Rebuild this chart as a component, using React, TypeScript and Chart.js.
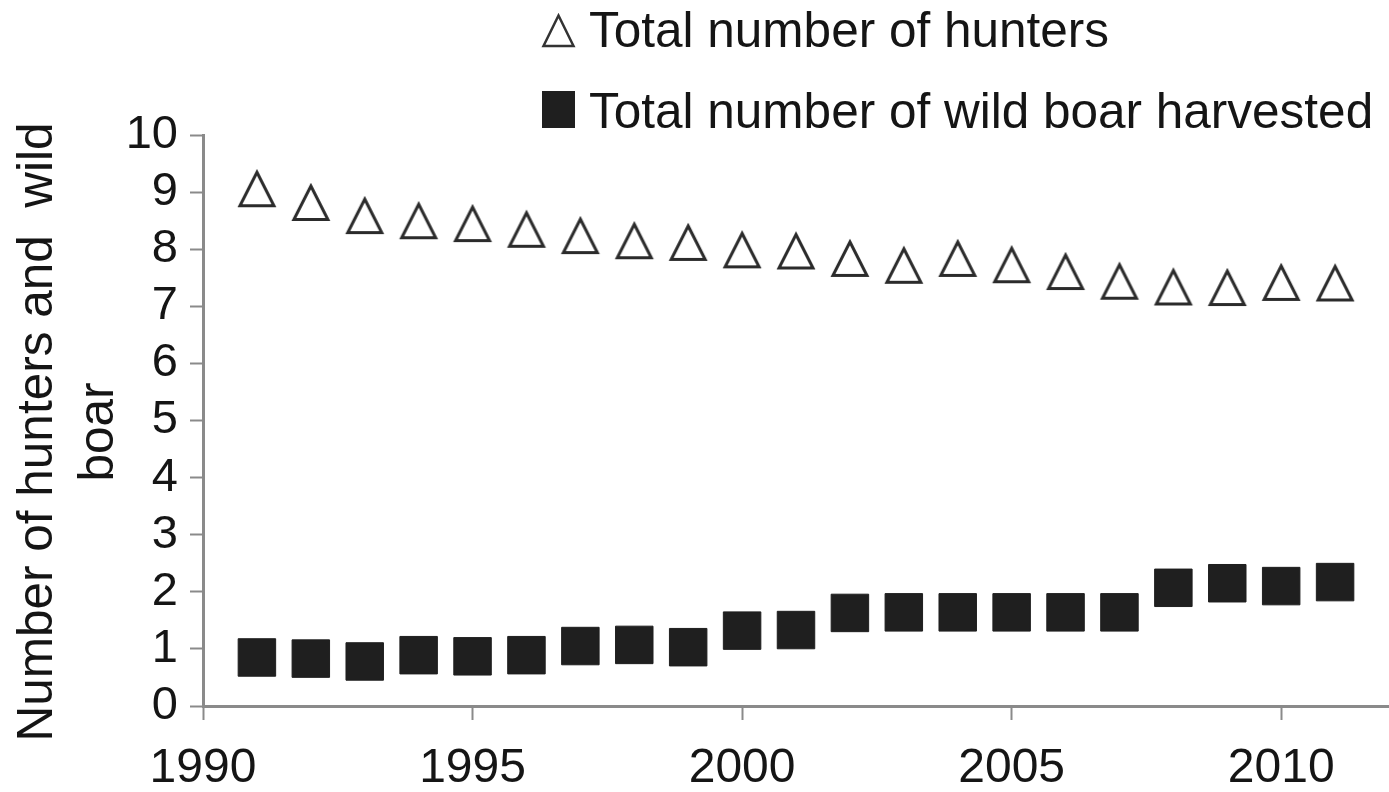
import { useEffect, useRef } from "react";
import { Chart, registerables } from "chart.js";

Chart.register(...registerables);

const years = [1991, 1992, 1993, 1994, 1995, 1996, 1997, 1998, 1999, 2000, 2001, 2002, 2003, 2004, 2005, 2006, 2007, 2008, 2009, 2010, 2011];
const hunters = [9.05, 8.81, 8.58, 8.49, 8.44, 8.34, 8.23, 8.14, 8.11, 7.98, 7.96, 7.83, 7.71, 7.83, 7.72, 7.6, 7.43, 7.33, 7.32, 7.41, 7.4];
const boar = [0.85, 0.83, 0.78, 0.89, 0.87, 0.89, 1.05, 1.07, 1.03, 1.32, 1.33, 1.63, 1.64, 1.64, 1.64, 1.64, 1.64, 2.07, 2.15, 2.1, 2.17];
const xTicks = [1990, 1995, 2000, 2005, 2010];
const yTicks = [0, 1, 2, 3, 4, 5, 6, 7, 8, 9, 10];
const seriesLabels = ["Total number of hunters", "Total number of wild boar harvested"];
const yTitle = ["Number of hunters and  wild", "boar"];

const FONT = "'Liberation Sans', Arial, Helvetica, sans-serif";
const TEXT = "#151515";
const AXIS = "#8a8a8a";

function makeTriangle(): HTMLCanvasElement {
  const c = document.createElement("canvas");
  c.width = 44;
  c.height = 44;
  const g = c.getContext("2d");
  if (g) {
    g.strokeStyle = "#2b2b2b";
    g.lineWidth = 3;
    g.lineJoin = "miter";
    g.fillStyle = "#ffffff";
    g.beginPath();
    g.moveTo(22, 5);
    g.lineTo(39, 38.5);
    g.lineTo(5, 38.5);
    g.closePath();
    g.fill();
    g.stroke();
  }
  return c;
}

const legendPlugin = {
  id: "customLegend",
  afterDraw(chart: any) {
    const ctx = chart.ctx as CanvasRenderingContext2D;
    ctx.save();
    ctx.font = `49.5px ${FONT}`;
    ctx.textAlign = "left";
    ctx.textBaseline = "alphabetic";
    // row 1: hollow triangle
    ctx.strokeStyle = "#333333";
    ctx.lineWidth = 2.5;
    ctx.beginPath();
    ctx.moveTo(558.5, 15.5);
    ctx.lineTo(573.5, 46);
    ctx.lineTo(543.5, 46);
    ctx.closePath();
    ctx.stroke();
    ctx.fillStyle = TEXT;
    ctx.fillText(seriesLabels[0], 589, 47);
    // row 2: filled square
    ctx.fillStyle = "#1f1f1f";
    ctx.fillRect(542, 91, 33, 37);
    ctx.fillStyle = TEXT;
    ctx.fillText(seriesLabels[1], 589, 128);
    ctx.restore();
  },
};

const yTitlePlugin = {
  id: "yTitle",
  afterDraw(chart: any) {
    const ctx = chart.ctx as CanvasRenderingContext2D;
    ctx.save();
    ctx.font = `49.5px ${FONT}`;
    ctx.fillStyle = TEXT;
    ctx.textAlign = "center";
    ctx.textBaseline = "alphabetic";
    ctx.translate(52, 432);
    ctx.rotate(-Math.PI / 2);
    ctx.fillText(yTitle[0], 0, 0);
    ctx.fillText(yTitle[1], 0, 61);
    ctx.restore();
  },
};

export default function App() {
  const ref = useRef<HTMLCanvasElement | null>(null);

  useEffect(() => {
    document.body.style.margin = "0";
    if (!ref.current) return;
    const tri = makeTriangle();
    const chart = new Chart(ref.current, {
      type: "scatter",
      data: {
        datasets: [
          {
            label: seriesLabels[0],
            data: years.map((y, i) => ({ x: y, y: hunters[i] })),
            pointStyle: tri as any,
            pointRadius: 19,
            pointHoverRadius: 19,
            showLine: false,
          },
          {
            label: seriesLabels[1],
            data: years.map((y, i) => ({ x: y, y: boar[i] })),
            pointStyle: "rect",
            pointRadius: 26.5,
            pointHoverRadius: 26.5,
            pointBackgroundColor: "#1f1f1f",
            pointBorderColor: "#1f1f1f",
            pointBorderWidth: 1,
            showLine: false,
          },
        ],
      },
      options: {
        animation: false,
        responsive: false,
        maintainAspectRatio: false,
        devicePixelRatio: 1,
        layout: { autoPadding: false, padding: { top: 135, left: 0, right: 0, bottom: 0 } },
        plugins: {
          legend: { display: false },
          tooltip: { enabled: false },
        },
        scales: {
          x: {
            type: "linear",
            min: 1990,
            max: 2012,
            afterBuildTicks: (s: any) => {
              s.ticks = xTicks.map((v) => ({ value: v }));
            },
            afterFit: (s: any) => {
              s.height = 86;
            },
            ticks: {
              includeBounds: false,
              autoSkip: false,
              maxRotation: 0,
              padding: 20,
              color: TEXT,
              font: { size: 48, family: FONT, lineHeight: 1.2 },
              callback: (v: any) => String(v),
            },
            grid: {
              display: true,
              drawOnChartArea: false,
              drawTicks: true,
              tickLength: 14,
              tickWidth: 2,
              tickColor: AXIS,
            },
            border: { display: true, color: AXIS, width: 3 },
          },
          y: {
            type: "linear",
            min: 0,
            max: 10,
            afterBuildTicks: (s: any) => {
              s.ticks = yTicks.map((v) => ({ value: v }));
            },
            afterFit: (s: any) => {
              s.width = 203;
            },
            ticks: {
              autoSkip: false,
              includeBounds: false,
              padding: 12,
              color: TEXT,
              font: { size: 47, family: FONT, lineHeight: 1.2 },
              callback: (v: any) => String(v),
            },
            grid: {
              display: true,
              drawOnChartArea: false,
              drawTicks: true,
              tickLength: 13,
              tickWidth: 2,
              tickColor: AXIS,
            },
            border: { display: true, color: AXIS, width: 3 },
            title: { display: false },
          },
        },
      },
      plugins: [legendPlugin, yTitlePlugin],
    });
    return () => chart.destroy();
  }, []);

  return (
    <div style={{ width: 1389, height: 792, background: "#ffffff" }}>
      <canvas ref={ref} width={1389} height={792} />
    </div>
  );
}
